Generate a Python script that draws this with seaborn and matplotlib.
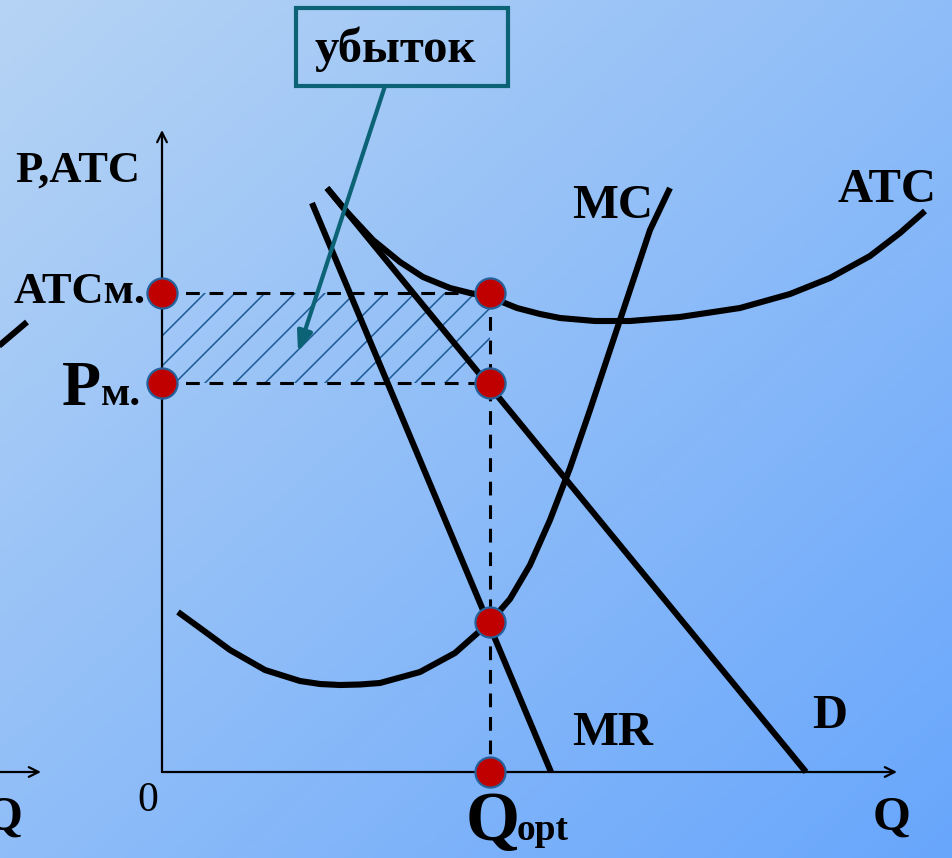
"""
Monopoly in the short run: loss ("убыток") at Q_opt where MR = MC and P < ATC.
"""
import numpy as np
import matplotlib.pyplot as plt
import seaborn as sns
from matplotlib.patches import Rectangle

# ================================================================================
# Data (economic units: Q on x, P on y)
# ================================================================================
atc_q = [16.5, 18.5, 21.1, 23.8, 26.1, 28.8, 30.8, 32.8, 35.5, 37.8, 39.8, 43.3, 46.8, 51.8, 57.8, 62.8, 66.8, 70.8, 73.8, 76.3]
atc_p = [58.4, 56.0, 53.2, 51.0, 49.5, 48.4, 47.9, 47.5, 46.4, 45.8, 45.4, 45.1, 45.1, 45.5, 46.4, 47.8, 49.4, 51.6, 53.9, 56.1]

mc_q = [1.6, 3.8, 6.8, 10.3, 13.8, 15.8, 17.8, 19.8, 21.8, 25.8, 29.3, 32.8, 34.8, 36.8, 38.8, 40.8, 42.8, 44.8, 46.8, 48.8, 50.8]
mc_p = [16.0, 14.4, 12.2, 10.2, 9.1, 8.8, 8.7, 8.75, 8.9, 10.0, 11.9, 15.0, 17.3, 20.7, 25.2, 30.4, 36.2, 42.2, 48.2, 54.2, 58.4]

d_q  = [16.5, 64.4]
d_p  = [58.4, 0.0]
mr_q = [15.0, 38.9]
mr_p = [56.9, 0.0]

q_opt  = 32.8
p_m    = 38.9
atc_m  = 47.9
mc_opt = 15.0

q_max = 73.5   # end of Q axis
p_max = 64.2   # end of P axis

# Fragment of the neighbouring chart on the left edge
frag_q = [-16.8, -13.5]
frag_p = [42.2, 45.0]

# ================================================================================
# Styling
# ================================================================================
W, H = 953, 858
X0, Y0, UNIT = 162, 772, 10            # origin in pixels, pixels per unit
XLIM = (-X0 / UNIT, (W - X0) / UNIT)
YLIM = ((Y0 - H) / UNIT, Y0 / UNIT)

SERIF  = ["Liberation Serif", "DejaVu Serif"]
TEAL   = "#0b6375"
HATCH  = "#1b5a95"
DOT    = "#c00000"
DOT_EC = "#25609a"
LW     = 4.4

sns.set_style("white")
plt.rcParams["font.family"] = SERIF
plt.rcParams["text.color"]  = "black"


def fpos(x, y):
    """Pixel position -> figure fraction (for text / annotation layout)."""
    return x / W, 1 - y / H


fig = plt.figure(figsize=(W / 100, H / 100), dpi=100)
ax  = fig.add_axes([0, 0, 1, 1])
ax.set_xlim(*XLIM); ax.set_ylim(*YLIM)
ax.axis("off")

# --------------------------------------------------------------------------------
# Background gradient (light top-left -> deeper blue bottom-right)
# --------------------------------------------------------------------------------
gx, gy = np.meshgrid(np.linspace(0, 1, 200), np.linspace(0, 1, 200))
t   = (gx + gy) / 2
c0  = np.array([182, 212, 244]) / 255
c1  = np.array([104, 166, 252]) / 255
img = c0 + (c1 - c0) * t[..., None]
ax.imshow(img, extent=(*XLIM, *YLIM), aspect="auto", zorder=0, origin="upper")

# --------------------------------------------------------------------------------
# Loss rectangle with hatch
# --------------------------------------------------------------------------------
rect = Rectangle((0, p_m), q_opt, atc_m - p_m, facecolor="none", edgecolor="none")
ax.add_patch(rect)
for c in np.arange(atc_m - 4.3, p_m - q_opt - 3, -3.0):
    ln, = ax.plot([0, q_opt], [c, c + q_opt], color=HATCH, lw=1.1, zorder=2)
    ln.set_clip_path(rect)

# --------------------------------------------------------------------------------
# Axes with arrows
# --------------------------------------------------------------------------------
arrow_kw = dict(arrowstyle="->,head_length=0.7,head_width=0.35", color="black", lw=1.6,
                shrinkA=0, shrinkB=0)
ax.annotate("", xy=(0, p_max), xytext=(0, 0), arrowprops=arrow_kw, zorder=3)
ax.annotate("", xy=(q_max, 0), xytext=(0, 0), arrowprops=arrow_kw, zorder=3)
ax.annotate("", xy=(-12.1, 0), xytext=(-17, 0), arrowprops=arrow_kw, zorder=3)

# --------------------------------------------------------------------------------
# Dashed guides
# --------------------------------------------------------------------------------
dash = dict(color="black", lw=2.2, linestyle=(0, (4.5, 3.2)), zorder=3)
ax.plot([0, q_opt], [atc_m, atc_m], **dash)
ax.plot([0, q_opt + 2.2], [p_m, p_m], **dash)
ax.plot([q_opt, q_opt], [atc_m, 0], **dash)

# --------------------------------------------------------------------------------
# Curves
# --------------------------------------------------------------------------------
curve_kw = dict(color="black", linewidth=LW, sort=False, estimator=None, ax=ax, zorder=4)
sns.lineplot(x=atc_q,  y=atc_p,  **curve_kw)
sns.lineplot(x=mc_q,   y=mc_p,   **curve_kw)
sns.lineplot(x=d_q,    y=d_p,    **curve_kw)
sns.lineplot(x=mr_q,   y=mr_p,   **curve_kw)
sns.lineplot(x=frag_q, y=frag_p, **curve_kw)
for ln in ax.lines[-5:]:
    ln.set_solid_capstyle("butt")
    ln.set_solid_joinstyle("round")

# --------------------------------------------------------------------------------
# Key points
# --------------------------------------------------------------------------------
dot_q = [0, q_opt, 0, q_opt, q_opt, q_opt]
dot_p = [atc_m, atc_m, p_m, p_m, mc_opt, 0]
sns.scatterplot(x=dot_q, y=dot_p, s=470, color=DOT, edgecolor=DOT_EC, linewidth=1.6,
                ax=ax, zorder=6, clip_on=False)

# --------------------------------------------------------------------------------
# Labels
# --------------------------------------------------------------------------------
def label(x, y, s, size, weight="bold", **kw):
    fig.text(*fpos(x, y), s, fontsize=size, fontweight=weight, family=SERIF,
             color="black", va="baseline", **kw)

label(15,  182, "P,ATC", 32)
label(14,  303, "ATCм.", 32)
label(101, 405, "P", 46, ha="right")
label(101, 405, "м.", 31)
label(572, 218, "MC", 35)
label(838, 202, "ATC", 35)
label(572, 745, "MR", 35)
label(812, 728, "D", 35)
label(137, 811, "0", 30, weight="normal")
label(873, 830, "Q", 35)
label(-15, 830, "Q", 35)
label(466, 840, "Q", 50)
label(517, 840, "opt", 27)

# "убыток" box with pointer into the loss area
box_l, box_t, box_r, box_b = fpos(296, 8) + fpos(508, 86)
fig.patches.append(Rectangle((box_l, box_b), box_r - box_l, box_t - box_b,
                             transform=fig.transFigure, facecolor="none",
                             edgecolor=TEAL, lw=3, zorder=7))
label(395, 62, "убыток", 35, ha="center")
ax.annotate("", xy=fpos(298, 352), xytext=fpos(385, 86),
            xycoords="figure fraction", textcoords="figure fraction",
            arrowprops=dict(arrowstyle="-|>,head_length=1.2,head_width=0.45",
                            color=TEAL, lw=3, shrinkA=0, shrinkB=0), zorder=7)

fig.savefig("out.png", dpi=100)
